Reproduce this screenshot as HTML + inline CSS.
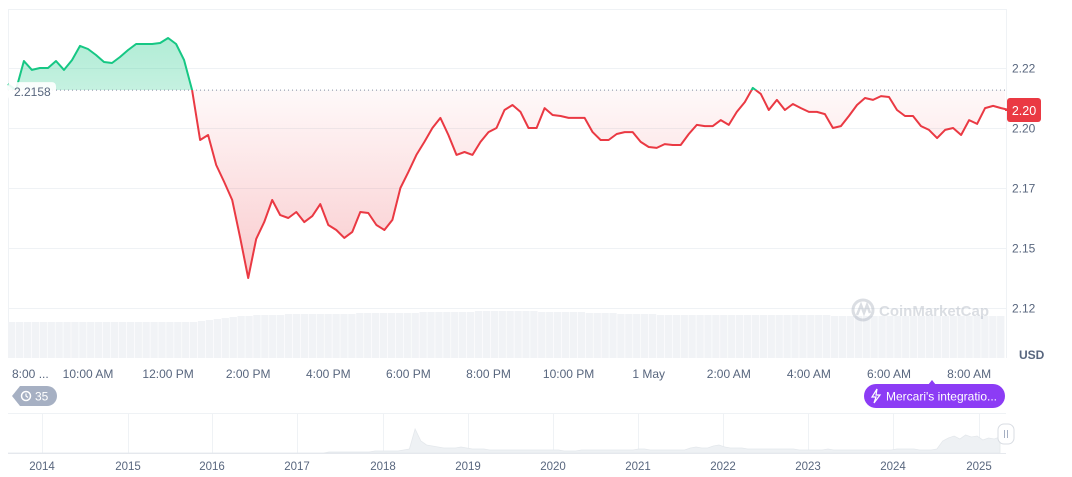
<!DOCTYPE html>
<html><head><meta charset="utf-8">
<style>
body{margin:0;background:#fff;font-family:"Liberation Sans",sans-serif;}
#wrap{position:relative;width:1072px;height:477px;overflow:hidden;}
svg text{font-family:"Liberation Sans",sans-serif;}
</style></head>
<body><div id="wrap">
<svg id="c" width="1072" height="477"></svg>
</div>
<script>
const startHour = 8.0;
const stepHours = 0.2;
const prices = [2.2183,2.2158,2.2279,2.2242,2.2250,2.2250,2.2279,2.2242,2.2283,2.2342,2.2329,2.2304,2.2275,2.2271,2.2296,2.2325,2.2350,2.2350,2.2350,2.2354,2.2375,2.2350,2.2283,2.2158,2.1950,2.1971,2.1846,2.1775,2.1700,2.1542,2.1375,2.1538,2.1608,2.1700,2.1637,2.1625,2.1650,2.1608,2.1633,2.1683,2.1596,2.1575,2.1542,2.1567,2.1650,2.1646,2.1596,2.1575,2.1617,2.1750,2.1817,2.1888,2.1942,2.2000,2.2042,2.1971,2.1888,2.1900,2.1888,2.1942,2.1983,2.2000,2.2075,2.2096,2.2067,2.2000,2.2000,2.2083,2.2054,2.2050,2.2042,2.2042,2.2042,2.1983,2.1950,2.1950,2.1975,2.1983,2.1983,2.1942,2.1921,2.1917,2.1933,2.1929,2.1929,2.1975,2.2013,2.2008,2.2008,2.2033,2.2013,2.2067,2.2108,2.2167,2.2142,2.2075,2.2117,2.2075,2.2100,2.2083,2.2067,2.2067,2.2058,2.2000,2.2008,2.2050,2.2096,2.2125,2.2117,2.2133,2.2129,2.2075,2.2050,2.2050,2.2008,2.1992,2.1958,2.1992,2.2000,2.1971,2.2033,2.2017,2.2083,2.2092,2.2083,2.2075];
const volumes = [36,36,36,36,36,36,36,36,36,36,36,36,36,36,36,36,36,36,36,36,36,36,36,36,37,38,39,40,41,42,42,43,43,43,43,44,44,44,44,44,44,44,44,44,45,45,45,45,45,45,45,45,46,46,46,46,46,46,46,47,47,47,47,47,47,47,47,46,46,46,46,46,46,45,45,45,45,44,44,44,44,44,43,43,43,43,43,43,43,43,43,43,43,43,43,43,43,43,43,43,43,43,43,43,42,42,42,42,42,42,42,42,42,42,42,42,42,42,42,42,42,42,42,42,42,42];
const yTicks = [2.225,2.2,2.175,2.15,2.125];
const yTickLabels = ["2.22","2.20","2.17","2.15","2.12"];
const xTickHours = [8,10,12,14,16,18,20,22,24,26,28,30,32];
const xTickLabels = ["8:00 ...","10:00 AM","12:00 PM","2:00 PM","4:00 PM","6:00 PM","8:00 PM","10:00 PM","1 May","2:00 AM","4:00 AM","6:00 AM","8:00 AM"];
const baseline = 2.2158;
const lastPrice = "2.20";
const years = ["2014","2015","2016","2017","2018","2019","2020","2021","2022","2023","2024","2025"];
const navValues = [0,0,0,0,0,0,0,0,0,0,0,0,0,0,0,0,0,0,0,0,0,0,0,0,0,0,0,0,0,0,0,0,0,0,0,0,0,0,0,0,0,0,0,0,0,0,0,0,0,0,0,0,0,0,0,0,1,1,1,1,1,1,1,1,2,2,2,2,2,3,4,24,12,8,7,6,5,5,5,6,5,4,4,4,3,3,3,3,3,3,3,3,3,3,3,3,3,2,2,2,3,3,3,3,3,3,3,3,3,3,4,4,3,3,3,3,3,3,3,5,6,5,5,7,8,6,5,5,5,4,4,4,4,4,4,4,4,4,3,3,3,3,3,4,3,3,3,3,3,3,3,3,3,3,3,4,4,4,4,3,3,3,4,12,15,17,14,18,16,17,13,15,14,16];

const NS="http://www.w3.org/2000/svg";
const svg=document.getElementById('c');
function mk(tag,attrs,parent){const e=document.createElementNS(NS,tag);for(const k in attrs)e.setAttribute(k,attrs[k]);(parent||svg).appendChild(e);return e;}
const xOf=h=>88+(h-10)*40.05;
const yOf=v=>128-(v-2.2)*2400;
const pts=prices.map((p,i)=>[xOf(startHour+i*stepHours),yOf(p)]);
pts.push([1005,yOf(prices[prices.length-1])]);

const defs=mk('defs',{});
defs.innerHTML='<linearGradient id="rg" x1="0" y1="'+yOf(baseline)+'" x2="0" y2="290" gradientUnits="userSpaceOnUse"><stop offset="0" stop-color="#ea3943" stop-opacity="0.03"/><stop offset="1" stop-color="#ea3943" stop-opacity="0.28"/></linearGradient>'+
'<linearGradient id="gg" x1="0" y1="30" x2="0" y2="'+yOf(baseline)+'" gradientUnits="userSpaceOnUse"><stop offset="0" stop-color="#16c784" stop-opacity="0.35"/><stop offset="1" stop-color="#16c784" stop-opacity="0.25"/></linearGradient>'+
'<clipPath id="above"><rect x="0" y="0" width="1072" height="'+yOf(baseline)+'"/></clipPath>'+
'<clipPath id="below"><rect x="0" y="'+yOf(baseline)+'" width="1072" height="400"/></clipPath>';

let e=mk('line',{x1:8,y1:9.5,x2:1007,y2:9.5,stroke:'#eff2f5'});

e=mk('line',{x1:1006.5,y1:9,x2:1006.5,y2:358,stroke:'#eff2f5'});

e=mk('line',{x1:8.5,y1:9,x2:8.5,y2:358,stroke:'#eff2f5'});


yTicks.forEach((t,i)=>{
 const y=Math.round(yOf(t))+0.5;
 const g=mk('line',{x1:8,y1:y,x2:1006,y2:y,stroke:'#eff2f5'});
 
 const l=mk('text',{x:1012,y:y+4,'font-size':12,fill:'#58667e'});l.textContent=yTickLabels[i];
 
});

const vb=volumes.length, bw=(1005-8)/vb;
volumes.forEach((v,i)=>{
 const h=v;
 const r=mk('rect',{x:8+i*bw,y:358-h,width:bw-0.6,height:h,fill:'#f1f3f6'});
 
});

e=mk('g',{opacity:0.35});

mk('circle',{cx:863,cy:310,r:10,fill:'none',stroke:'#9aa3b2','stroke-width':3},e);
mk('path',{d:'M857 315 L861 305 L864 313 L867 305 L870 313',fill:'none',stroke:'#9aa3b2','stroke-width':2.5},e);
let t=mk('text',{x:879,y:316,'font-size':15,'font-weight':'bold',fill:'#9aa3b2'},e);t.textContent='CoinMarketCap';

const lineD='M'+pts.map(p=>p[0].toFixed(1)+' '+p[1].toFixed(1)).join(' L');
const by=yOf(baseline);
const areaD=lineD+' L1005 '+by+' L'+pts[0][0]+' '+by+' Z';
e=mk('path',{d:areaD,fill:'url(#gg)','clip-path':'url(#above)'});

e=mk('path',{d:areaD,fill:'url(#rg)','clip-path':'url(#below)'});

e=mk('line',{x1:8,y1:by,x2:1006,y2:by,stroke:'#858ca2','stroke-dasharray':'1 3'});

e=mk('path',{d:lineD,fill:'none',stroke:'#16c784','stroke-width':2,'clip-path':'url(#above)','stroke-linejoin':'round'});

e=mk('path',{d:lineD,fill:'none',stroke:'#ea3943','stroke-width':2,'clip-path':'url(#below)','stroke-linejoin':'round'});


e=mk('rect',{x:8,y:by-8,width:48,height:18,rx:4,fill:'#fff',opacity:0.9});

t=mk('text',{x:14,y:by+6,'font-size':12,fill:'#58667e'});t.textContent=baseline.toFixed(4);


e=mk('rect',{x:1007,y:98,width:34,height:24,rx:3,fill:'#ea3943'});

t=mk('text',{x:1024,y:115,'font-size':12.5,fill:'#fff','text-anchor':'middle'});t.textContent=lastPrice;


t=mk('text',{x:1019,y:359,'font-size':12,'font-weight':'bold',fill:'#58667e'});t.textContent='USD';


xTickHours.forEach((h,i)=>{
 const x=i===0?12:xOf(h);
 const l=mk('text',{x:x,y:378,'font-size':12,fill:'#58667e','text-anchor':i===0?'start':'middle'});l.textContent=xTickLabels[i];
 
});

e=mk('g',{});
mk('path',{d:'M20 386 H47 A10 10 0 0 1 47 406 H20 L12 396 Z',fill:'#a6b0c3'},e);
mk('circle',{cx:26,cy:396,r:4.5,fill:'none',stroke:'#fff','stroke-width':1.5},e);
mk('path',{d:'M26 393.5 V396 L28 397.5',fill:'none',stroke:'#fff','stroke-width':1.2},e);
t=mk('text',{x:35,y:400.5,'font-size':12,fill:'#fff'},e);t.textContent='35';

e=mk('g',{});
mk('path',{d:'M928 385 L932 380 L936 385 Z',fill:'#8c3cf5'},e);
mk('rect',{x:864,y:384,width:141,height:24,rx:12,fill:'#8c3cf5'},e);
mk('path',{d:'M877 389 L872 397 H876 L874 403 L880 395 H876 Z',fill:'none',stroke:'#fff','stroke-width':1.2},e);
t=mk('text',{x:886,y:400.5,'font-size':12,fill:'#fff'},e);t.textContent="Mercari's integratio...";

const yearX=[42,128,212,297,383,468,553,638,723,808,893,979];
e=mk('line',{x1:8,y1:413.5,x2:1006,y2:413.5,stroke:'#eff2f5'});

e=mk('line',{x1:8,y1:453.5,x2:1006,y2:453.5,stroke:'#e6e9ee'});

years.forEach((yr,i)=>{
 const g=mk('line',{x1:yearX[i]+0.5,y1:413,x2:yearX[i]+0.5,y2:453,stroke:'#eff2f5'});
 
 const l=mk('text',{x:yearX[i],y:470,'font-size':11.5,fill:'#58667e','text-anchor':'middle'});l.textContent=yr;
 
});
const nn=navValues.length;
const navX=i=>8+i*(1000-8)/(nn-1);
let nd='M8 453 '+navValues.map((v,i)=>'L'+navX(i).toFixed(1)+' '+(453-v)).join(' ')+' L1000 453 Z';
e=mk('path',{d:nd,fill:'#eef1f4',stroke:'#e4e8ec','stroke-width':0.8});

e=mk('g',{});
mk('rect',{x:998,y:424,width:16,height:20,rx:6,fill:'#fff',stroke:'#d9dde3'},e);
mk('line',{x1:1004.5,y1:430,x2:1004.5,y2:438,stroke:'#a6b0c3'},e);
mk('line',{x1:1007.5,y1:430,x2:1007.5,y2:438,stroke:'#a6b0c3'},e);
</script>
</body></html>
